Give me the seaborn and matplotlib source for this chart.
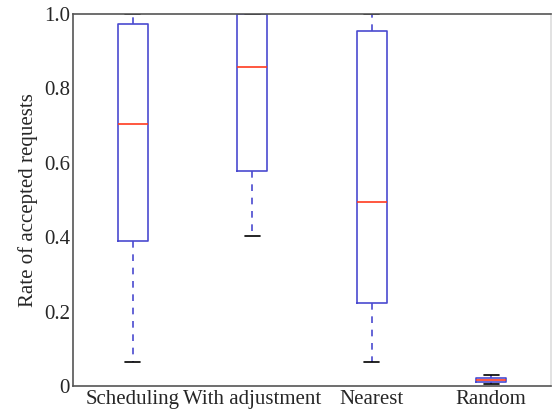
import numpy as np
import pandas as pd
import seaborn as sns
import matplotlib
matplotlib.use("Agg")
import matplotlib.pyplot as plt

categories = ["Scheduling", "With adjustment", "Nearest", "Random"]
# five-number summaries: min, q1, median, q3, max
scheduling = [0.064, 0.389, 0.705, 0.973, 1.0]
with_adjustment = [0.402, 0.579, 0.858, 1.0, 1.0]
nearest = [0.064, 0.223, 0.496, 0.954, 1.0]
random_ = [0.005, 0.012, 0.017, 0.022, 0.030]
yticks = [0, 0.2, 0.4, 0.6, 0.8, 1.0]
ytick_labels = ["0", "0.2", "0.4", "0.6", "0.8", "1.0"]

df = pd.DataFrame({
    "method": np.repeat(categories, 5),
    "rate": scheduling + with_adjustment + nearest + random_,
})

sns.set_style("white")
plt.rcParams["font.family"] = ["Liberation Serif", "DejaVu Serif"]

fig = plt.figure(figsize=(5.52, 4.12), dpi=100)
ax = fig.add_axes([0.132, 0.063, 0.866, 0.903])

blue = "#4a4ad0"
sns.boxplot(data=df, x="method", y="rate", order=categories, ax=ax,
            whis=np.inf, width=0.25, fill=False, linewidth=1.2,
            boxprops=dict(color=blue),
            whiskerprops=dict(color=blue, linestyle=(0, (4, 4))),
            capprops=dict(color="black"),
            medianprops=dict(color="#ff3b1f"),
            showfliers=False)

ax.set_xlim(-0.5, 3.5)
ax.set_ylim(0, 1.0)
ax.set_yticks(yticks)
ax.set_yticklabels(ytick_labels)
ax.set_xlabel("")
ax.set_ylabel("Rate of accepted requests", fontsize=15, labelpad=4)
ax.tick_params(axis="both", direction="in", length=4, labelsize=15, color="#555555", pad=2)
ax.tick_params(axis="x", length=3, pad=3)
for s in ax.spines.values():
    s.set_visible(True)
    s.set_color("#555555")
    s.set_linewidth(1.2)
ax.spines["right"].set_color("#dddddd")

fig.savefig("out.png", dpi=100)
